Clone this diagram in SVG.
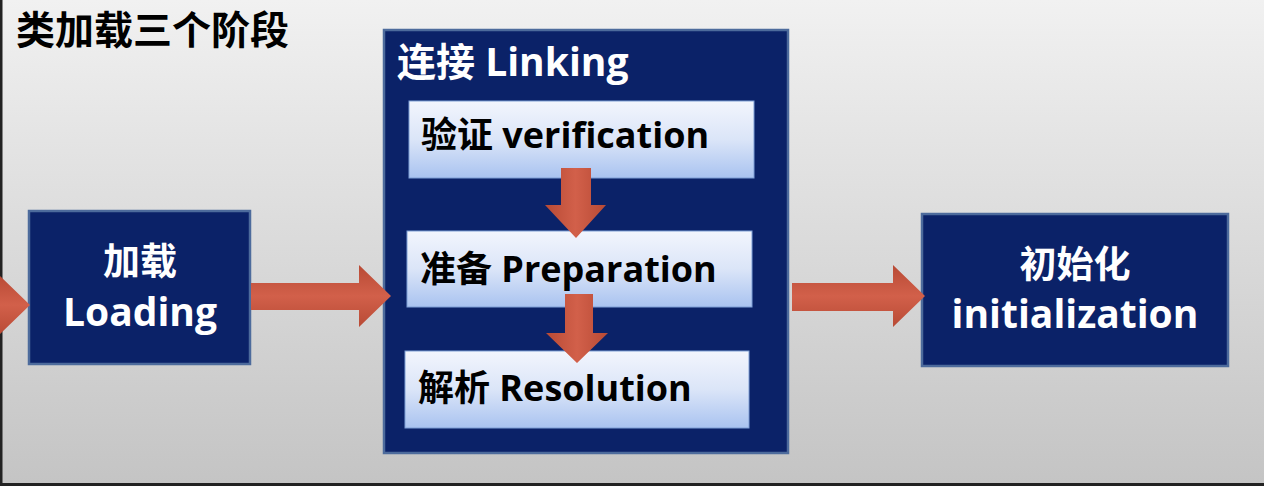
<svg xmlns="http://www.w3.org/2000/svg" width="1264" height="486" viewBox="0 0 1264 486">
<defs>
<linearGradient id="bg" x1="0" y1="0" x2="0" y2="1">
<stop offset="0" stop-color="#f1f1f1"/>
<stop offset="1" stop-color="#c4c4c4"/>
</linearGradient>
<linearGradient id="sub" x1="0" y1="0" x2="0" y2="1">
<stop offset="0" stop-color="#f2f5fd"/>
<stop offset="0.5" stop-color="#dbe5f8"/>
<stop offset="1" stop-color="#a9c3f0"/>
</linearGradient>
<linearGradient id="arrH" x1="0" y1="0" x2="0" y2="1">
<stop offset="0" stop-color="#b84a35"/>
<stop offset="0.5" stop-color="#d2604a"/>
<stop offset="1" stop-color="#b84a35"/>
</linearGradient>
<linearGradient id="arrV" x1="0" y1="0" x2="1" y2="0">
<stop offset="0" stop-color="#b84a35"/>
<stop offset="0.5" stop-color="#d2604a"/>
<stop offset="1" stop-color="#b84a35"/>
</linearGradient>
</defs>
<style>
.t{font-family:"Open Sans","Noto Sans CJK SC",sans-serif;font-weight:bold}
.c{font-family:"Noto Sans CJK SC",sans-serif;font-weight:bold}
.dark{fill:#0b2268;stroke:#4d6b9c;stroke-width:2.5}
.sub{fill:url(#sub);stroke:#7f9fd6;stroke-width:1}
.w{fill:#ffffff}
.b{fill:#000000}
.ah{fill:url(#arrH)}
.av{fill:url(#arrV)}
</style>
<rect x="0" y="0" width="1264" height="486" fill="url(#bg)"/>
<rect x="0" y="0" width="2.5" height="486" fill="#222"/>
<rect x="0" y="483" width="1264" height="3" fill="#222"/>

<text class="c b" x="16" y="44" font-size="39">类加载三个阶段</text>

<g id="loading">
<rect class="dark" x="29" y="211" width="221" height="153"/>
<text class="c w" x="140" y="275" font-size="37" text-anchor="middle">加载</text>
<text class="t w" x="140" y="326" font-size="39" text-anchor="middle">Loading</text>
</g>

<g id="linking">
<rect class="dark" x="384" y="30" width="404" height="423"/>
<text class="t w" x="397" y="76" font-size="39">连接 Linking</text>
</g>

<g id="verification">
<rect class="sub" x="409" y="101" width="345" height="77"/>
<text class="t b" x="421" y="148" font-size="36">验证 verification</text>
</g>

<g id="preparation">
<rect class="sub" x="407" y="231" width="345" height="76"/>
<text class="t b" x="420" y="282" font-size="36">准备 Preparation</text>
</g>

<g id="resolution">
<rect class="sub" x="405" y="351" width="344" height="77"/>
<text class="t b" x="418" y="401" font-size="36">解析 Resolution</text>
</g>

<g id="initialization">
<rect class="dark" x="922" y="214" width="306" height="152"/>
<text class="c w" x="1075" y="278" font-size="37" text-anchor="middle">初始化</text>
<text class="t w" x="1075" y="328" font-size="39" text-anchor="middle">initialization</text>
</g>

<g id="connectors">
<polygon class="ah" points="-40,291 -2,291 -2,274 30,305 -2,336 -2,319 -40,319"/>
<polygon class="ah" points="251,283 359,283 359,265 391,296 359,327 359,310 251,310"/>
<polygon class="ah" points="792,283 893,283 893,265 925,296 893,327 893,311 792,311"/>
<polygon class="av" points="561,168 591,168 591,205 606,205 576,238 545,205 561,205"/>
<polygon class="av" points="565,294 593,294 593,333 608,333 577,363 546,333 565,333"/>
</g>
</svg>
